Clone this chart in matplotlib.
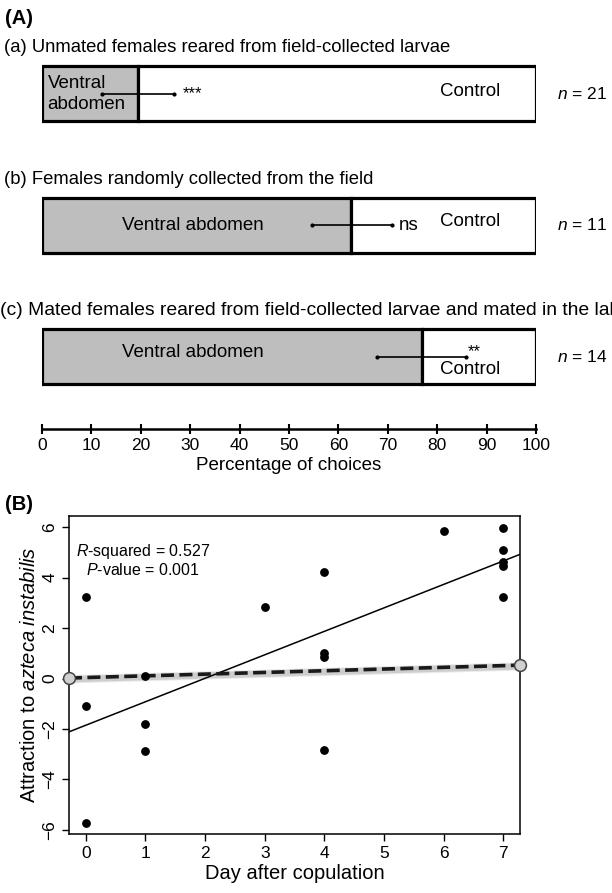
import numpy as np
from matplotlib import pyplot as plt

plt.rcParams['font.family'] = ['Liberation Sans', 'DejaVu Sans']
plt.rcParams['mathtext.fontset'] = 'custom'
plt.rcParams['mathtext.rm'] = 'Liberation Sans'
plt.rcParams['mathtext.it'] = 'Liberation Sans:italic'

# panel A: choice tests
titles = ['(a) Unmated females reared from field-collected larvae',
          '(b) Females randomly collected from the field',
          '(c) Mated females reared from field-collected larvae and mated in the lab']
ventral_pct = [19.4, 62.5, 77.0]
err_lo = [12.1, 54.6, 67.8]
err_hi = [26.7, 70.8, 85.9]
sig = ['***', 'ns', '**']
n_vals = [21, 11, 14]
pct_ticks = list(range(0, 101, 10))

# panel B: attraction vs day after copulation
day = [0, 0, 0, 1, 1, 1, 3, 4, 4, 4, 4, 6, 7, 7, 7, 7, 7]
attraction = [3.23, -1.09, -5.72, 0.09, -1.80, -2.87, 2.85, 4.22, 1.00, 0.85,
              -2.83, 5.85, 5.96, 5.10, 4.60, 4.45, 3.23]
null_x = [-0.28, 7.28]
null_y = [0.02, 0.53]
r_squared = 0.527
p_value = 0.001

grey = '#bebebe'

fig = plt.figure(figsize=(6.12, 8.93), dpi=100)

# ---------- panel A ----------
axA = fig.add_axes([42/612, 1-429/893, 494/612, 389/893])
ypos = np.arange(len(titles))
bh = 0.42
axA.barh(ypos, ventral_pct, height=bh, color=grey, edgecolor='black', linewidth=2.3)
axA.barh(ypos, [100-v for v in ventral_pct], left=ventral_pct, height=bh,
         color='white', edgecolor='black', linewidth=2.3)

title_x = [-7.6, -7.6, -8.5]
title_fs = [13.3, 13.3, 13.9]
for i in range(len(titles)):
    y = ypos[i]
    axA.text(title_x[i], y-0.35, titles[i], ha='left', va='center', fontsize=title_fs[i],
             clip_on=False)
    axA.plot([err_lo[i], err_hi[i]], [y, y], color='black', lw=1.2, zorder=3)
    axA.plot([err_lo[i], err_hi[i]], [y, y], 'o', color='black', ms=2, zorder=3)
    axA.text(104.3, y, '$n$ = %d' % n_vals[i], ha='left', va='center', fontsize=12.5,
             clip_on=False)

# labels inside bars
axA.text(1.1, 0, 'Ventral\nabdomen', ha='left', va='center', fontsize=13.5, linespacing=1.25)
axA.text(err_hi[0]+1.8, 0, sig[0], ha='left', va='center', fontsize=12)
axA.text(86.6, -0.02, 'Control', ha='center', va='center', fontsize=13.5)

axA.text(30.6, 1, 'Ventral abdomen', ha='center', va='center', fontsize=13.5)
axA.text(err_hi[1]+1.5, 1, sig[1], ha='left', va='center', fontsize=13.5)
axA.text(86.6, 0.97, 'Control', ha='center', va='center', fontsize=13.5)

axA.text(30.6, 1.97, 'Ventral abdomen', ha='center', va='center', fontsize=13.5)
axA.text(err_hi[2]+0.3, 1.96, sig[2], ha='left', va='center', fontsize=12)
axA.text(86.6, 2.1, 'Control', ha='center', va='center', fontsize=13.5)

axA.set_xlim(0, 100)
axA.set_ylim(2.55, -0.41)
for s in ['top', 'left', 'right']:
    axA.spines[s].set_visible(False)
axA.spines['bottom'].set_linewidth(1.8)
axA.set_yticks([])
axA.set_xticks(pct_ticks)
axA.tick_params(axis='x', direction='inout', length=7, width=1.5, labelsize=12.5, pad=3)
axA.set_xlabel('Percentage of choices', fontsize=13.5, labelpad=3)
fig.text(5/612, 1-18/893, '(A)', fontsize=14.5, fontweight='bold', ha='left', va='center')

# ---------- panel B ----------
axB = fig.add_axes([69/612, 1-834/893, 451/612, 318/893])
axB.plot(day, attraction, 'o', color='black', ms=5.3, zorder=4)

slope, icpt = np.polyfit(day, attraction, 1)
xl = np.array([-0.28, 7.28])
axB.plot(xl, icpt + slope*xl, color='black', lw=1.1, zorder=3)

# null expectation line with a soft shadow
for w, a in [(6, 0.15), (4.5, 0.25)]:
    axB.plot(null_x, [v-0.05 for v in null_y], color='#777777', lw=w, alpha=a,
             solid_capstyle='butt', zorder=2)
axB.plot(null_x, null_y, color='#1a1a1a', lw=2.6, dashes=(3.6, 1.5), zorder=3)
axB.plot(null_x, null_y, 'o', ms=8.5, mfc='#d0d0d0', mec='#444444', mew=1.1,
         clip_on=False, zorder=5)

axB.text(0.955, 4.7, '$R$-squared = %.3f\n$P$-value = %.3f' % (r_squared, p_value),
         ha='center', va='center', fontsize=11.5, linespacing=1.1)

axB.set_xlim(-0.28, 7.28)
axB.set_ylim(-6.16, 6.44)
axB.set_xticks(range(0, 8))
axB.set_yticks(range(-6, 7, 2))
axB.set_yticklabels([str(v).replace('-', '\u2212') for v in range(-6, 7, 2)],
                    rotation=90, va='center')
axB.tick_params(direction='out', length=5, width=1, labelsize=12.5)
for s in axB.spines.values():
    s.set_linewidth(1.1)
axB.set_xlabel('Day after copulation', fontsize=14.5, labelpad=2)
axB.set_ylabel('Attraction to $azteca\\ instabilis$', fontsize=14.5, labelpad=2)
fig.text(5/612, 1-505/893, '(B)', fontsize=14.5, fontweight='bold', ha='left', va='center')

fig.savefig('out.png', dpi=100)
